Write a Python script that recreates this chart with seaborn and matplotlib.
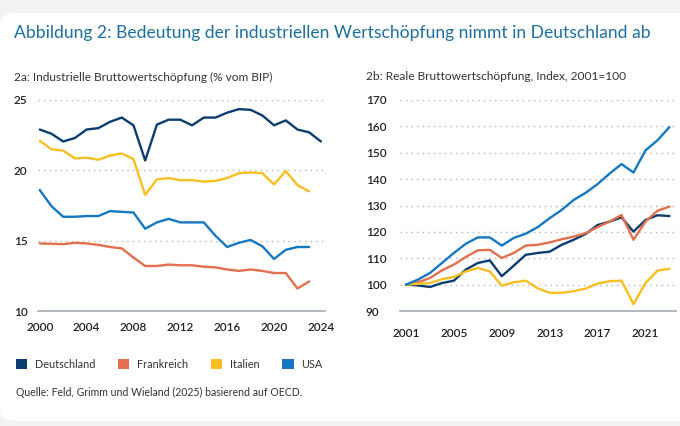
import pandas as pd
import matplotlib.pyplot as plt
import seaborn as sns
from matplotlib.patches import Patch, FancyBboxPatch
from matplotlib.ticker import MultipleLocator, FixedLocator

# Data
countries = ['Deutschland', 'Frankreich', 'Italien', 'USA']
colors = ['#0d3d70', '#e2704c', '#f7bf22', '#1678c0']

years_share = list(range(2000, 2025))
de_share = [22.9, 22.6, 22.05, 22.3, 22.9, 23.0, 23.45, 23.75, 23.2, 20.7, 23.25, 23.6, 23.6,
            23.2, 23.75, 23.75, 24.1, 24.35, 24.3, 23.9, 23.2, 23.55, 22.9, 22.7, 22.05]
fr_share = [14.8, 14.78, 14.75, 14.85, 14.8, 14.7, 14.55, 14.45, 13.8, 13.2, 13.2, 13.3, 13.25,
            13.25, 13.15, 13.1, 12.95, 12.85, 12.95, 12.85, 12.7, 12.7, 11.6, 12.1]
it_share = [22.1, 21.5, 21.4, 20.85, 20.9, 20.75, 21.05, 21.2, 20.8, 18.25, 19.35, 19.45, 19.3,
            19.3, 19.2, 19.25, 19.45, 19.8, 19.85, 19.8, 19.0, 19.95, 18.95, 18.5]
us_share = [18.6, 17.45, 16.7, 16.7, 16.75, 16.75, 17.1, 17.05, 17.0, 15.85, 16.3, 16.55, 16.3,
            16.3, 16.3, 15.35, 14.55, 14.85, 15.05, 14.6, 13.7, 14.35, 14.55, 14.55]

years_index = list(range(2001, 2024))
de_index = [100, 99.7, 99.1, 100.6, 101.5, 105.7, 108.2, 109.2, 103.2, 107.2, 111.3, 112.0,
            112.5, 115.1, 117.0, 119.2, 122.6, 123.9, 125.5, 120.1, 124.5, 126.3, 126.0]
fr_index = [100, 100.9, 102.5, 105.4, 107.6, 110.5, 113.0, 113.2, 110.1, 112.0, 114.8, 115.1,
            116.0, 117.2, 118.2, 119.5, 121.8, 123.9, 126.4, 117.0, 123.9, 128.0, 129.6]
it_index = [100, 100.3, 100.6, 102.1, 102.9, 105.0, 106.3, 105.0, 99.6, 100.9, 101.5, 98.6,
            96.9, 96.9, 97.5, 98.5, 100.4, 101.3, 101.5, 92.6, 100.6, 105.3, 106.0]
us_index = [100, 101.9, 104.4, 108.2, 112.0, 115.5, 117.9, 117.9, 114.8, 117.7, 119.3, 121.8,
            125.2, 128.3, 132.1, 134.8, 138.1, 142.1, 145.7, 142.5, 150.9, 154.7, 159.7]


def to_long(years, series):
    """Build a long-form table for seaborn"""
    rows = []
    for name, vals in zip(countries, series):
        for yr, v in zip(years, vals):
            rows.append({'Jahr': yr, 'Wert': v, 'Land': name})
    return pd.DataFrame(rows)


df_share = to_long(years_share, [de_share, fr_share, it_share, us_share])
df_index = to_long(years_index, [de_index, fr_index, it_index, us_index])

sns.set_style("white")
plt.rcParams['font.family'] = ['Lato', 'DejaVu Sans']

W, H = 680, 426
fig = plt.figure(figsize=(6.8, 4.26), dpi=100, facecolor='#f2f2f2')

# white card behind everything
card = FancyBboxPatch((0, 5 / H), 1.05, (413 - 5) / H, boxstyle="round,pad=0,rounding_size=0.025",
                      transform=fig.transFigure, facecolor='white', edgecolor='none', zorder=-5)
fig.patches.append(card)

text_dark = '#333333'
axis_grey = '#a3abb3'
grid_grey = '#b5b5b5'

fig.text(14 / W, 1 - 33 / H, 'Abbildung 2: Bedeutung der industriellen Wertschöpfung nimmt in Deutschland ab',
         fontsize=12.6, color='#1f6f9c', va='center', ha='left')

fig.text(14 / W, 1 - 77 / H, '2a: Industrielle Bruttowertschöpfung (% vom BIP)',
         fontsize=8.6, color=text_dark, va='center', ha='left')
fig.text(366 / W, 1 - 77 / H, '2b: Reale Bruttowertschöpfung, Index, 2001=100',
         fontsize=8.6, color=text_dark, va='center', ha='left')

bottom = 1 - 311 / H
height = (311 - 100) / H
ax1 = fig.add_axes([38 / W, bottom, (325 - 38) / W, height])
ax2 = fig.add_axes([400 / W, bottom, (676 - 400) / W, height])
for ax in (ax1, ax2):
    ax.set_facecolor('none')

sns.lineplot(data=df_share, x='Jahr', y='Wert', hue='Land', hue_order=countries,
             palette=colors, linewidth=1.7, legend=False, ax=ax1)
sns.lineplot(data=df_index, x='Jahr', y='Wert', hue='Land', hue_order=countries,
             palette=colors, linewidth=1.7, legend=False, ax=ax2)

# left panel axes
ax1.set_xlim(1999.85, 2024.35)
ax1.set_ylim(10, 25)
ax1.xaxis.set_major_locator(FixedLocator([2000, 2004, 2008, 2012, 2016, 2020, 2024]))
ax1.xaxis.set_minor_locator(MultipleLocator(1))
ax1.yaxis.set_major_locator(MultipleLocator(5))

# right panel axes
ax2.set_xlim(2000.5, 2023.55)
ax2.set_ylim(90, 170)
ax2.xaxis.set_major_locator(FixedLocator([2001, 2005, 2009, 2013, 2017, 2021]))
ax2.xaxis.set_minor_locator(FixedLocator([2000.5 + k for k in range(24)]))
ax2.yaxis.set_major_locator(MultipleLocator(10))

for ax, ypad in ((ax1, 17.3), (ax2, 24.5)):
    ax.set_xlabel('')
    ax.set_ylabel('')
    for s in ('top', 'right', 'left'):
        ax.spines[s].set_visible(False)
    ax.spines['bottom'].set_color(axis_grey)
    ax.spines['bottom'].set_linewidth(1.2)
    ax.grid(axis='y', color=grid_grey, linestyle=(0, (1, 3)), linewidth=1.0)
    ax.grid(axis='x', visible=False)
    ax.set_axisbelow(True)
    ax.tick_params(axis='y', length=0, pad=ypad, labelsize=8.5, labelcolor='#222222')
    for lab in ax.get_yticklabels():
        lab.set_horizontalalignment('left')
    ax.tick_params(axis='x', which='both', direction='in', length=4, width=0.9,
                   color=axis_grey, pad=8, labelsize=8.5, labelcolor='#222222')
    for lab in ax.get_xticklabels() + ax.get_yticklabels():
        lab.set_fontweight('semibold')

ax2.tick_params(axis='x', which='major', length=0, pad=12)

# legend
handles = [Patch(facecolor=c, edgecolor='none', label=n) for n, c in zip(countries, colors)]
fig.legend(handles=handles, loc='upper left', bbox_to_anchor=(16 / W, 1 - 359 / H), ncol=4,
           frameon=False, fontsize=7.8, handlelength=1.05, handleheight=1.05,
           handletextpad=0.7, columnspacing=2.1, borderpad=0, borderaxespad=0,
           labelcolor=text_dark)

fig.text(16 / W, 1 - 392 / H, 'Quelle: Feld, Grimm und Wieland (2025) basierend auf OECD.',
         fontsize=7.6, color=text_dark, va='center', ha='left')

fig.savefig('out.png', dpi=100, facecolor=fig.get_facecolor())
